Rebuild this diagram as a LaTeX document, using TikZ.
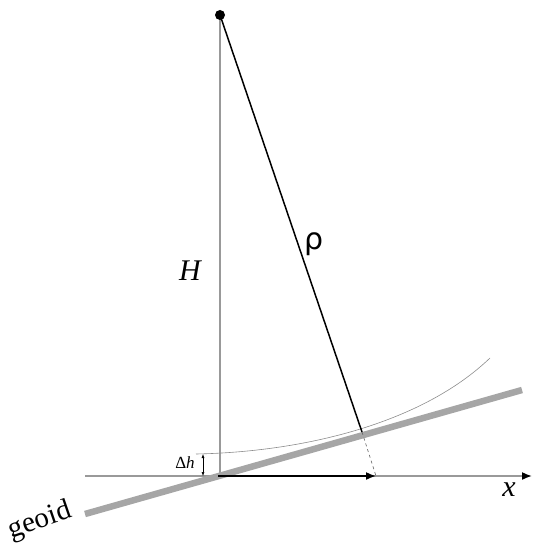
\documentclass[tikz,border=0pt]{standalone}
\usepackage{fontspec}
\setmainfont{Liberation Serif}
\newfontfamily\rhofont{DejaVu Sans}
\usetikzlibrary{arrows.meta}
\begin{document}
\begin{tikzpicture}[x=1pt,y=-1pt,
  axisline/.style={draw=black!40,line width=1.6pt},
  geoidline/.style={draw=black!35,line width=6.5pt},
  lbl/.style={inner sep=0pt,font=\fontsize{30}{32}\selectfont}]
\useasboundingbox (0,0) rectangle (536,553);
\coordinate (P) at (220,15);
\coordinate (F) at (220,476);
\coordinate (O) at (218,476);
\coordinate (AL) at (85,476);
\coordinate (AR) at (532,476);
\coordinate (T) at (376,476);
\coordinate (S) at (362,432);
\coordinate (GL) at (85,514);
\coordinate (GR) at (522,390);
\coordinate (C0) at (196,454);
\coordinate (C1) at (490,358);
\coordinate (D1) at (203,454);
\coordinate (D2) at (203,476);
% axis
\draw[axisline,-{Latex[length=10pt,width=8pt,color=black]}] (AL) -- (AR);
% vertical
\draw[axisline] (P) -- (F);
% geoid
\draw[geoidline] (GL) -- (GR);
% curve
\draw[black!45,line width=0.6pt] (C0) .. controls (300,452) and (420,425) .. (C1);
% black arrow
\draw[black,line width=1.6pt,-{Latex[length=10pt,width=8pt]}] (O) -- (T);
% rho line
\draw[black,line width=1.5pt] (P) -- (S);
\draw[black!60,dashed,line width=0.6pt] (S) -- (T);
% delta h
\draw[black,line width=0.5pt,{Latex[length=4pt,width=3pt]}-{Latex[length=4pt,width=3pt]}] (D1) -- (D2);
\fill[black] (P) circle (5);
\node[lbl] (H) at (190,271) {\itshape H};
\node[lbl] (rho) at (314,244) {\rhofont ρ};
\node[lbl] (x) at (509,490) {\itshape x};
\node[inner sep=0pt,font=\fontsize{17}{18}\selectfont] (dh) at (185,463) {Δ\itshape h};
\node[inner sep=0pt,font=\fontsize{29}{30}\selectfont,rotate=19] (geoid) at (40,521) {geoid};
\end{tikzpicture}
\end{document}
